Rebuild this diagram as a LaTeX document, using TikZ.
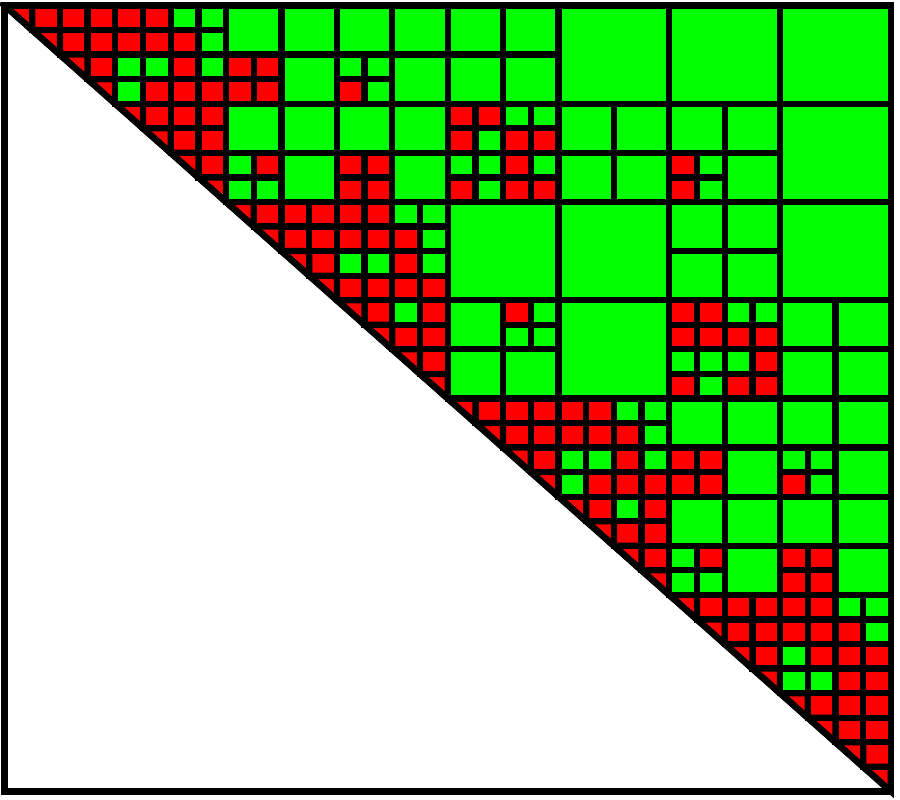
\documentclass[tikz,border=0pt]{standalone}
\begin{document}
\begin{tikzpicture}[x=0.554cm, y=-0.4912cm, line join=miter,
  cellr/.style={fill=red, draw=black, line width=0.125cm},
  cellg/.style={fill=green, draw=black, line width=0.125cm},
  frame/.style={draw=black, line width=0.13cm}]
\useasboundingbox (-0.1625,-0.224) rectangle (32.33,32.35);
\fill[white] (-0.1625,-0.224) rectangle (32.33,32.35);
% full-rank (red) cells of the upper triangle
\foreach \r in {0,...,30} {
  \pgfmathtruncatemacro{\s}{\r+1}
  \foreach \c in {\s,...,31} { \draw[cellr] (\c,\r) rectangle ++(1,1); }
}
% diagonal half cells
\foreach \i in {0,...,31} { \draw[cellr] (\i,\i) -- ++(1,0) -- ++(0,1) -- cycle; }
% low-rank (green) blocks: row/col/size
\foreach \r/\c/\n in {
 0/6/1, 0/7/1, 1/7/1,
 0/8/2, 0/10/2, 0/12/2, 0/14/2, 0/16/2, 0/18/2,
 0/20/4, 0/24/4, 0/28/4,
 2/4/1, 2/5/1, 3/4/1, 2/7/1,
 2/10/2, 2/12/1, 2/13/1, 3/13/1, 2/14/2, 2/16/2, 2/18/2,
 4/8/2, 4/10/2, 4/12/2, 4/14/2, 5/17/1, 4/18/1, 4/19/1,
 4/20/2, 4/22/2, 4/24/2, 4/26/2, 4/28/4,
 6/8/1, 7/8/1, 7/9/1, 6/10/2, 6/14/2, 6/16/1, 6/17/1, 7/17/1, 6/19/1,
 6/20/2, 6/22/2, 6/25/1, 7/25/1, 6/26/2,
 8/14/1, 8/15/1, 9/15/1, 10/12/1, 10/13/1, 10/15/1,
 8/16/4, 8/20/4, 8/24/2, 8/26/2, 8/28/4, 10/24/2, 10/26/2,
 12/14/1, 12/16/2, 12/19/1, 13/18/1, 13/19/1, 12/20/4, 12/26/1, 12/27/1, 12/28/2, 12/30/2,
 14/16/2, 14/18/2, 14/24/1, 14/25/1, 14/26/1, 15/25/1, 14/28/2, 14/30/2,
 16/22/1, 16/23/1, 17/23/1, 16/24/2, 16/26/2, 16/28/2, 16/30/2,
 18/20/1, 18/21/1, 18/23/1, 19/20/1, 18/26/2, 18/28/1, 18/29/1, 19/29/1, 18/30/2,
 20/22/1, 20/24/2, 20/26/2, 20/28/2, 20/30/2,
 22/24/1, 23/24/1, 23/25/1, 22/26/2, 22/30/2,
 24/30/1, 24/31/1, 25/31/1, 26/28/1, 27/28/1, 27/29/1}
 { \draw[cellg] (\c,\r) rectangle ++(\n,\n); }
% diagonal and outer frame
\draw[frame] (0,0) -- (32,32);
\draw[frame] (0,0) rectangle (32,32);
\end{tikzpicture}
\end{document}
